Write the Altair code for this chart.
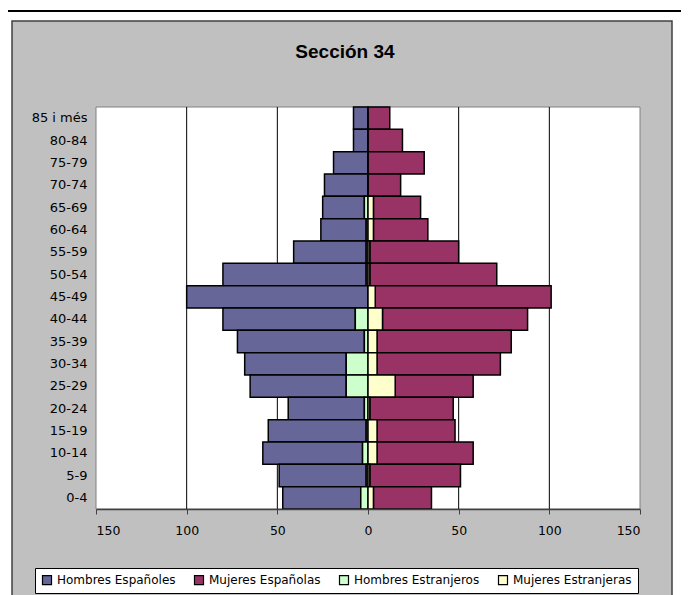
import altair as alt
import pandas as pd

ages = ["85 i més", "80-84", "75-79", "70-74", "65-69", "60-64", "55-59", "50-54", "45-49",
        "40-44", "35-39", "30-34", "25-29", "20-24", "15-19", "10-14", "5-9", "0-4"]
hombres_esp = [8, 8, 19, 24, 23, 25, 40, 79, 100, 73, 70, 56, 53, 42, 54, 55, 48, 43]
hombres_ext = [0, 0, 0, 0, 2, 1, 1, 1, 0, 7, 2, 12, 12, 2, 1, 3, 1, 4]
mujeres_ext = [0, 0, 0, 0, 3, 3, 1, 1, 4, 8, 5, 5, 15, 1, 5, 5, 1, 3]
mujeres_esp = [12, 19, 31, 18, 26, 30, 49, 70, 97, 80, 74, 68, 43, 46, 43, 53, 50, 32]

series = ["Hombres Españoles", "Mujeres Españolas", "Hombres Estranjeros", "Mujeres Estranjeras"]
colors = ["#666699", "#993366", "#CCFFCC", "#FFFFCC"]
x_ticks = [-150, -100, -50, 0, 50, 100, 150]
grid_vals = [-100, -50, 0, 50, 100]
title_text = "Sección 34"

rows = []
for i, a in enumerate(ages):
    rows.append({"age": a, "series": series[0], "value": -hombres_esp[i], "ord": 1})
    rows.append({"age": a, "series": series[2], "value": -hombres_ext[i], "ord": 0})
    rows.append({"age": a, "series": series[1], "value": mujeres_esp[i], "ord": 1})
    rows.append({"age": a, "series": series[3], "value": mujeres_ext[i], "ord": 0})
df = pd.DataFrame(rows)

FONT = "DejaVu Sans"
W, H = 544, 402
one = pd.DataFrame({"k": [0]})

xscale = alt.Scale(domain=[-150, 150], nice=False, zero=False)
xaxis = alt.Axis(values=x_ticks, labelExpr="abs(datum.value)", grid=False, title=None,
                 domainColor="#404040", domainWidth=1.5, tickColor="#404040", tickSize=5,
                 labelPadding=10, labelFont=FONT, labelFontSize=12.5, labelColor="black",
                 zindex=2)

# outer grey chart box
box = alt.Chart(one).mark_rect(fill="#C0C0C0", stroke="#404040", strokeWidth=1.5).encode(
    x=alt.value(-84), x2=alt.value(576), y=alt.value(-86), y2=alt.value(600)
)
# top separator line
topline = alt.Chart(one).mark_rule(color="black", strokeWidth=2).encode(
    x=alt.value(-90), x2=alt.value(600), y=alt.value(-96)
)
# white plot area
plotbg = alt.Chart(one).mark_rect(fill="white", stroke="#808080", strokeWidth=1).encode(
    x=alt.value(0), x2=alt.value(W), y=alt.value(0), y2=alt.value(H)
)
grid = alt.Chart(pd.DataFrame({"v": grid_vals})).mark_rule(color="black", strokeWidth=1).encode(
    x=alt.X("v:Q", scale=xscale, axis=xaxis)
)
bars = alt.Chart(df).mark_bar(stroke="black", strokeWidth=1.5).encode(
    x=alt.X("value:Q", stack="zero", scale=xscale, axis=xaxis),
    y=alt.Y("age:N", sort=ages, scale=alt.Scale(paddingInner=0, paddingOuter=0),
            axis=alt.Axis(title=None, ticks=False, domain=False, labelPadding=9,
                          labelFont=FONT, labelFontSize=13, labelColor="black", zindex=2)),
    color=alt.Color("series:N", scale=alt.Scale(domain=series, range=colors),
                    legend=alt.Legend(title=None, orient="none", legendX=-61, legendY=461,
                                      direction="horizontal", columns=4, fillColor="white",
                                      strokeColor="black", padding=6, symbolType="square",
                                      symbolSize=81, symbolStrokeColor="black", symbolStrokeWidth=1.2,
                                      labelFont=FONT, labelFontSize=12, labelColor="black",
                                      columnPadding=16, labelOffset=4, zindex=2)),
    order=alt.Order("ord:Q"),
)
title = alt.Chart(one).mark_text(text=title_text, font="Liberation Sans", fontSize=19,
                                 fontWeight="bold", color="black").encode(
    x=alt.value(249), y=alt.value(-55)
)

chart = alt.layer(box, topline, plotbg, grid, bars, title).properties(
    width=W, height=H,
    autosize=alt.AutoSizeParams(type="none"),
    padding={"left": 88, "top": 99, "right": 41, "bottom": 86},
    background="white",
).configure_view(stroke=None)

chart.save("out.html", embed_options={"renderer": "svg", "actions": False})
